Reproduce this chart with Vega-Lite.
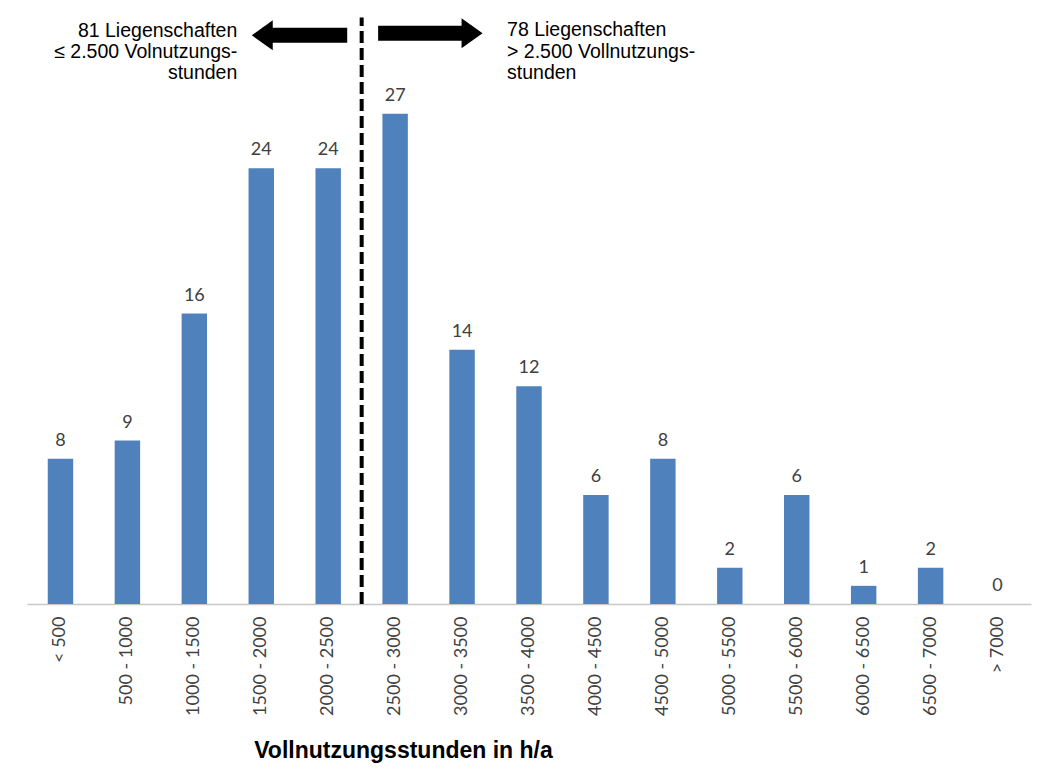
{
  "$schema": "https://vega.github.io/schema/vega-lite/v6.json",
  "autosize": "none",
  "width": 1004,
  "height": 581,
  "padding": {"left": 27, "top": 23, "right": 24, "bottom": 176},
  "background": "white",
  "config": {"view": {"stroke": null}},
  "datasets": {
    "bars": [
      {"k": "< 500", "n": 8},
      {"k": "500 - 1000", "n": 9},
      {"k": "1000 - 1500", "n": 16},
      {"k": "1500 - 2000", "n": 24},
      {"k": "2000 - 2500", "n": 24},
      {"k": "2500 - 3000", "n": 27},
      {"k": "3000 - 3500", "n": 14},
      {"k": "3500 - 4000", "n": 12},
      {"k": "4000 - 4500", "n": 6},
      {"k": "4500 - 5000", "n": 8},
      {"k": "5000 - 5500", "n": 2},
      {"k": "5500 - 6000", "n": 6},
      {"k": "6000 - 6500", "n": 1},
      {"k": "6500 - 7000", "n": 2},
      {"k": "> 7000", "n": 0}
    ],
    "divider": [{"u": 5, "y0": 0, "y1": 32.3}],
    "arrows": [
      {"a": 3.515, "b": 4.784, "v": 31.32, "dir": "left", "h": 3.515},
      {"a": 5.246, "b": 6.649, "v": 31.43, "dir": "right", "h": 6.649}
    ],
    "notes": [
      {"u": 3.142, "v": 31.57, "t": "81 Liegenschaften", "side": "left"},
      {"u": 3.142, "v": 30.41, "t": "≤ 2.500 Volnutzungs-", "side": "left"},
      {"u": 3.142, "v": 29.23, "t": "stunden", "side": "left"},
      {"u": 7.172, "v": 31.62, "t": "78 Liegenschaften", "side": "right"},
      {"u": 7.172, "v": 30.41, "t": "> 2.500 Vollnutzungs-", "side": "right"},
      {"u": 7.172, "v": 29.23, "t": "stunden", "side": "right"}
    ]
  },
  "resolve": {"scale": {"x": "independent"}, "axis": {"x": "independent"}},
  "layer": [
    {
      "data": {"name": "bars"},
      "encoding": {
        "x": {
          "field": "k",
          "type": "nominal",
          "sort": null,
          "scale": {"paddingInner": 0.62, "paddingOuter": 0.31},
          "axis": {
            "title": "Vollnutzungsstunden in h/a",
            "titleFont": "Liberation Sans",
            "titleFontWeight": "bold",
            "titleFontSize": 23,
            "titleColor": "black",
            "titleX": 376,
            "titleY": 146,
            "titleAlign": "center",
            "titleBaseline": "middle",
            "labelAngle": 270,
            "labelFont": "Lato",
            "labelFontSize": 18,
            "labelColor": "#404040",
            "labelPadding": 12,
            "ticks": false,
            "domainColor": "#C8C8C8",
            "domainWidth": 1.5
          }
        },
        "y": {
          "field": "n",
          "type": "quantitative",
          "scale": {"domain": [0, 32], "nice": false},
          "axis": null
        }
      },
      "layer": [
        {"mark": {"type": "bar", "color": "#4F81BD"}},
        {
          "mark": {"type": "text", "dy": -13, "baseline": "alphabetic", "font": "Lato", "fontSize": 18, "color": "#404040"},
          "encoding": {"text": {"field": "n", "type": "quantitative"}}
        }
      ]
    },
    {
      "layer": [
        {
          "data": {"name": "divider"},
          "mark": {"type": "rule", "color": "black", "strokeWidth": 4, "strokeDash": [12, 5]},
          "encoding": {
            "x": {"field": "u", "type": "quantitative", "scale": {"domain": [0, 15], "nice": false, "zero": false}, "axis": null},
            "y": {"field": "y0", "type": "quantitative"},
            "y2": {"field": "y1"}
          }
        },
        {
          "data": {"name": "arrows"},
          "mark": {"type": "rule", "color": "black", "strokeWidth": 15, "strokeCap": "butt"},
          "encoding": {
            "x": {"field": "a", "type": "quantitative"},
            "x2": {"field": "b"},
            "y": {"field": "v", "type": "quantitative"}
          }
        },
        {
          "data": {"name": "arrows"},
          "mark": {"type": "point", "filled": true, "color": "black", "opacity": 1, "size": 900},
          "encoding": {
            "x": {"field": "h", "type": "quantitative"},
            "y": {"field": "v", "type": "quantitative"},
            "shape": {
              "field": "dir",
              "type": "nominal",
              "scale": {"domain": ["left", "right"], "range": ["M-0.7,0L0.7,-1L0.7,1Z", "M0.7,0L-0.7,-1L-0.7,1Z"]},
              "legend": null
            }
          }
        },
        {
          "data": {"name": "notes"},
          "transform": [{"filter": "datum.side === 'left'"}],
          "mark": {"type": "text", "align": "right", "baseline": "middle", "font": "Liberation Sans", "fontSize": 19.5, "color": "black"},
          "encoding": {
            "x": {"field": "u", "type": "quantitative"},
            "y": {"field": "v", "type": "quantitative"},
            "text": {"field": "t"}
          }
        },
        {
          "data": {"name": "notes"},
          "transform": [{"filter": "datum.side === 'right'"}],
          "mark": {"type": "text", "align": "left", "baseline": "middle", "font": "Liberation Sans", "fontSize": 19.5, "color": "black"},
          "encoding": {
            "x": {"field": "u", "type": "quantitative"},
            "y": {"field": "v", "type": "quantitative"},
            "text": {"field": "t"}
          }
        }
      ]
    }
  ]
}
